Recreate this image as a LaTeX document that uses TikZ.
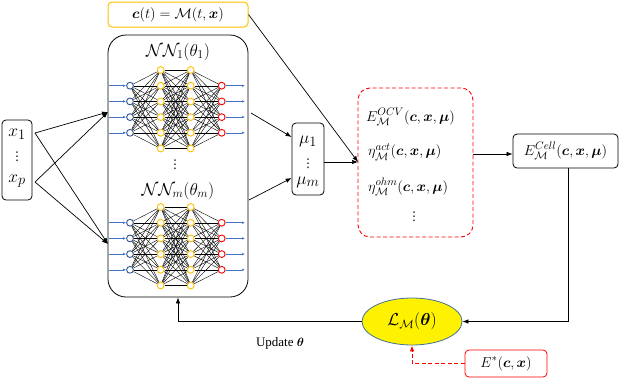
\documentclass[tikz,border=0pt]{standalone}
\usepackage{amsmath,bm}
\usepackage{fontspec}
\setmainfont{Liberation Serif}
\newfontfamily\dejavu{DejaVu Sans}
\usetikzlibrary{arrows.meta,shapes.geometric,calc}
\definecolor{cyel}{HTML}{FFC000}
\definecolor{cred}{HTML}{FF0000}
\definecolor{cblueN}{HTML}{2F5597}
\definecolor{cblueL}{HTML}{4472C4}
\definecolor{cellb}{HTML}{41719C}
\newcommand{\vdts}{{\dejavu ⋮}}
\begin{document}
\begin{tikzpicture}[x=1pt,y=-1pt,font=\fontsize{15}{17}\selectfont,
  box/.style={draw,rounded corners=4pt,line width=0.8pt,inner sep=0pt},
  arr/.style={-{Latex[length=6pt,width=4.5pt]},line width=0.7pt},
  neuY/.style={circle,draw=cyel,fill=white,line width=0.9pt,minimum size=6.8pt,inner sep=0pt},
  neuB/.style={circle,draw=cblueN,fill=white,line width=0.9pt,minimum size=6.8pt,inner sep=0pt},
  neuR/.style={circle,draw=cred,fill=white,line width=0.9pt,minimum size=6.8pt,inner sep=0pt},
  wire/.style={line width=0.4pt,black},
  bwire/.style={cblueL,line width=0.6pt,-{Latex[length=3pt,width=2.5pt]}},
  txt/.style={inner sep=0pt},
  dts/.style={inner sep=0pt,font=\fontsize{12}{14}\selectfont},
  bigtxt/.style={inner sep=0pt,font=\fontsize{19}{21}\selectfont}]
\useasboundingbox (0,0) rectangle (623,383);

% top box
\node[box,draw=cyel,line width=1pt,minimum width=140,minimum height=25] (ct) at (178,14.5) {$\bm{c}(t)=\mathcal{M}(t,\bm{x})$};

% big NN box
\node[draw,rounded corners=18pt,line width=0.8pt,minimum width=140,minimum height=262] (nnbox) at (178,166) {};
\node[txt,font=\fontsize{16.5}{18}\selectfont] (nn1) at (178,52) {$\mathcal{N}\mathcal{N}_1(\theta_1)$};
\node[dts] (nnd) at (175,165) {\vdts};
\node[txt,font=\fontsize{16.5}{18}\selectfont] (nnm) at (178,191) {$\mathcal{N}\mathcal{N}_m(\theta_m)$};

\foreach \k/\yt in {1/70,2/207}{
  \foreach \i in {1,...,6}{
    \node[neuY] (ya\k-\i) at (160.7,{\yt+(\i-1)*15.7}) {};
    \node[neuY] (yb\k-\i) at (190.7,{\yt+(\i-1)*15.7}) {};
  }
  \foreach \i in {1,...,4}{
    \node[neuB] (b\k-\i) at (130,{\yt+\i*15.7}) {};
    \node[neuR] (r\k-\i) at (221.7,{\yt+\i*15.7}) {};
    \coordinate (bi\k-\i) at (109,{\yt+\i*15.7});
    \coordinate (ro\k-\i) at (245,{\yt+\i*15.7});
    \draw[bwire] (bi\k-\i) -- (b\k-\i);
    \draw[bwire] (r\k-\i) -- (ro\k-\i);
  }
  \foreach \i in {1,...,4}{
    \foreach \j in {1,...,6}{
      \draw[wire] (b\k-\i) -- (ya\k-\j);
      \draw[wire] (yb\k-\j) -- (r\k-\i);
    }
  }
  \foreach \i in {1,...,6}{
    \foreach \j in {1,...,6}{
      \draw[wire] (ya\k-\i) -- (yb\k-\j);
    }
  }
}

% x box
\node[box,minimum width=30,minimum height=80] (xbox) at (17,160) {};
\node[bigtxt] (x1) at (17,134) {$x_1$};
\node[dts] (xd) at (17,157) {\vdts};
\node[bigtxt] (xp) at (17,181) {$x_p$};
\coordinate (x1o) at (35,133);
\coordinate (xpo) at (35,182);
\coordinate (in1) at (108,112);
\coordinate (in2) at (108,244);
\draw[arr] (x1o) -- (in1);
\draw[arr] (x1o) -- (in2);
\draw[arr] (xpo) -- (in1);
\draw[arr] (xpo) -- (in2);

% mu box
\node[box,minimum width=32,minimum height=72] (mubox) at (308,159) {};
\node[bigtxt] (mu1) at (308,141) {$\mu_1$};
\node[dts] (mud) at (308,164) {\vdts};
\node[bigtxt] (mum) at (308,182) {$\mu_m$};
\coordinate (o1) at (251,113);
\coordinate (o2) at (249,200);
\draw[arr] (o1) -- (mubox.west |- 0,137);
\draw[arr] (o2) -- (mubox.west |- 0,178);

% red dashed box
\node[draw=cred,dashed,dash pattern=on 4pt off 2.5pt,rounded corners=12pt,line width=0.9pt,minimum width=115,minimum height=149] (obox) at (415.5,162.5) {};
\node[txt,anchor=west] (eocv) at (366,117) {$E_{\mathcal{M}}^{OCV}(\bm{c},\bm{x},\bm{\mu})$};
\node[txt,anchor=west] (eact) at (368,152) {$\eta_{\mathcal{M}}^{act}(\bm{c},\bm{x},\bm{\mu})$};
\node[txt,anchor=west] (eohm) at (368,187) {$\eta_{\mathcal{M}}^{ohm}(\bm{c},\bm{x},\bm{\mu})$};
\node[dts] (eod) at (414,217) {\vdts};
\coordinate (oin) at (358,162);
\draw[arr] (mubox.east |- 0,162) -- (oin);
\draw[arr] (ct.east) -- (oin);

% Ecell
\node[box,minimum width=105,minimum height=34] (ecell) at (565.5,151) {$E_{\mathcal{M}}^{Cell}(\bm{c},\bm{x},\bm{\mu})$};
\draw[arr] (obox.east |- 0,154) -- (ecell.west |- 0,154);

% loss
\node[ellipse,draw=cellb,fill=yellow,line width=0.8pt,minimum width=100,minimum height=47,inner sep=0pt,font=\fontsize{18}{20}\selectfont] (loss) at (412,321.5) {$\mathcal{L}_{\mathcal{M}}(\bm{\theta})$};
\coordinate (lc) at (568,321.5);
\draw[arr] (ecell.south -| lc) -- (lc) -- (loss.east);
\coordinate (uc) at (178,321.5);
\draw[arr] (loss.west) -- (uc) -- (nnbox.south);
\node[txt,font=\fontsize{13}{15}\selectfont] (upd) at (280,343) {Update $\bm{\theta}$};

% E*
\node[box,draw=cred,minimum width=82,minimum height=27] (estar) at (506,363.5) {$E^{*}(\bm{c},\bm{x})$};
\coordinate (ec) at (412,363.5);
\draw[arr,cred,dashed,dash pattern=on 4pt off 2.5pt,line width=1pt] (estar.west) -- (ec) -- (loss.south);
\end{tikzpicture}
\end{document}
